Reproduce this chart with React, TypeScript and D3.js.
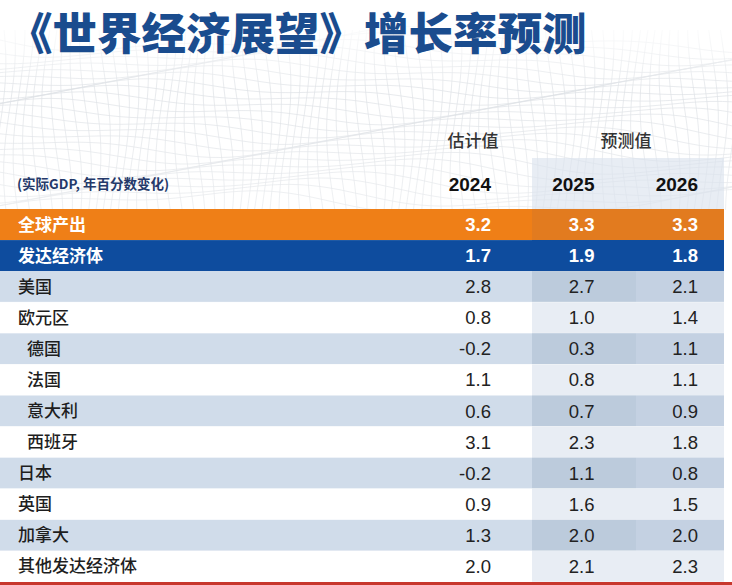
import React from "react";
import * as d3 from "d3";

const title = "《世界经济展望》增长率预测";
const unitNote = "(实际GDP, 年百分数变化)";
const groupHeaders = ["估计值", "预测值"];
const years = ["2024", "2025", "2026"];
const rowLabels = ["全球产出", "发达经济体", "美国", "欧元区", "德国", "法国", "意大利", "西班牙", "日本", "英国", "加拿大", "其他发达经济体"];
const euroMembers = ["德国", "法国", "意大利", "西班牙"];
const v2024 = [3.2, 1.7, 2.8, 0.8, -0.2, 1.1, 0.6, 3.1, -0.2, 0.9, 1.3, 2.0];
const v2025 = [3.3, 1.9, 2.7, 1.0, 0.3, 0.8, 0.7, 2.3, 1.1, 1.6, 2.0, 2.1];
const v2026 = [3.3, 1.8, 2.1, 1.4, 1.1, 1.1, 0.9, 1.8, 0.8, 1.5, 2.0, 2.3];

const W = 732;
const H = 585;
const CJK = "'Noto Sans CJK SC', 'Noto Sans', sans-serif";
const NUM = "'Liberation Sans', Arial, sans-serif";

export default function App() {
  const seriesByYear = [v2024, v2025, v2026];
  const y = d3.scaleBand<string>().domain(rowLabels).range([209, 582]).paddingInner(0);
  const xRight = d3.scalePoint<string>().domain(years).range([491, 698]);
  const fmt = d3.formatLocale({ decimal: ".", thousands: ",", grouping: [3], currency: ["", ""], minus: "-" }).format(".1f");
  const tableRight = 724;
  const fcLeft = 532;
  const fcMid = 636;

  // decorative mesh background
  const line = d3.line<[number, number]>().curve(d3.curveBasis);
  const hLines: string[] = [];
  for (let i = 0; i < 26; i++) {
    const base = 40 + i * 6.5;
    const pts: [number, number][] = d3.range(0, W + 20, 20).map((x) => [
      x,
      base + 9 * Math.sin(x / 90 + i * 0.35) + 5 * Math.sin(x / 37 + i * 0.9),
    ]);
    hLines.push(line(pts) as string);
  }
  const vLines: string[] = [];
  for (let j = 0; j < 80; j++) {
    const bx = j * 9.5;
    const pts: [number, number][] = d3.range(30, 212, 12).map((yy) => [
      bx + 6 * Math.sin(yy / 40 + j * 0.4),
      yy,
    ]);
    vLines.push(line(pts) as string);
  }

  const rowFill = (i: number) => {
    if (i === 0) return "#ef7f17";
    if (i === 1) return "#0e4c9e";
    return i % 2 === 0 ? "#d0dcea" : "#ffffff";
  };
  const fcFill = (i: number, col: number) => {
    if (i === 0) return "#e27b1f";
    if (i === 1) return "#0e4c9e";
    if (i % 2 === 0) return col === 1 ? "#bccbdc" : "#c4d1e2";
    return "#e8edf4";
  };

  return (
    <svg width={W} height={H} viewBox={`0 0 ${W} ${H}`} style={{ display: "block", position: "absolute", left: 0, top: 0 }}>
      <rect x={0} y={0} width={W} height={H} fill="#ffffff" />
      <defs>
        <linearGradient id="meshFade" x1="0" y1="0" x2="0" y2="1">
          <stop offset="0" stopColor="#ffffff" stopOpacity={0.9} />
          <stop offset="0.35" stopColor="#ffffff" stopOpacity={0.2} />
          <stop offset="1" stopColor="#ffffff" stopOpacity={0.45} />
        </linearGradient>
      </defs>
      <g stroke="#c9ced6" strokeWidth={0.7} fill="none" opacity={0.75}>
        {hLines.map((d, i) => (
          <path key={"h" + i} d={d} />
        ))}
        {vLines.map((d, i) => (
          <path key={"v" + i} d={d} />
        ))}
      </g>
      <rect x={0} y={25} width={W} height={185} fill="url(#meshFade)" />
      {/* forecast header shading */}
      <rect x={fcLeft} y={158} width={tableRight - fcLeft} height={51} fill="#d9e1ec" opacity={0.6} />

      <text x={8} y={50} fontFamily={CJK} fontSize={44.5} fontWeight={900} fill="#1a4c8e">
        {title}
      </text>

      <text x={473} y={147} textAnchor="middle" fontFamily={CJK} fontSize={17} fontWeight={500} fill="#333">
        {groupHeaders[0]}
      </text>
      <text x={626} y={147} textAnchor="middle" fontFamily={CJK} fontSize={17} fontWeight={500} fill="#333">
        {groupHeaders[1]}
      </text>
      <text x={17} y={189} fontFamily={CJK} fontSize={13.5} fontWeight={700} fill="#24396a">
        {unitNote}
      </text>
      {years.map((yr) => (
        <text key={yr} x={xRight(yr)} y={191} textAnchor="end" fontFamily={NUM} fontSize={19} fontWeight={700} fill="#111">
          {yr}
        </text>
      ))}

      {rowLabels.map((lab, i) => {
        const y0 = y(lab) as number;
        const h = y.bandwidth();
        const colored = i < 2;
        return (
          <g key={lab}>
            <rect x={0} y={y0} width={tableRight} height={h} fill={rowFill(i)} />
            <rect x={fcLeft} y={y0} width={fcMid - fcLeft} height={h} fill={fcFill(i, 1)} />
            <rect x={fcMid} y={y0} width={tableRight - fcMid} height={h} fill={fcFill(i, 2)} />
            {i >= 2 && (
              <line x1={0} x2={tableRight} y1={y0 + h} y2={y0 + h} stroke="#ffffff" strokeWidth={0.8} opacity={0.7} />
            )}
            <text
              x={euroMembers.includes(lab) ? 27 : 18}
              y={y0 + h / 2 + 6}
              fontFamily={CJK}
              fontSize={17}
              fontWeight={colored ? 700 : 500}
              fill={colored ? "#ffffff" : "#1e1e1e"}
            >
              {lab}
            </text>
            {years.map((yr, c) => (
              <text
                key={yr}
                x={xRight(yr)}
                y={y0 + h / 2 + 6.5}
                textAnchor="end"
                fontFamily={NUM}
                fontSize={18.5}
                fontWeight={colored ? 700 : 400}
                fill={colored ? "#ffffff" : "#222"}
              >
                {fmt(seriesByYear[c][i])}
              </text>
            ))}
          </g>
        );
      })}
      <rect x={0} y={582} width={W} height={3} fill="#c8372d" />
    </svg>
  );
}
